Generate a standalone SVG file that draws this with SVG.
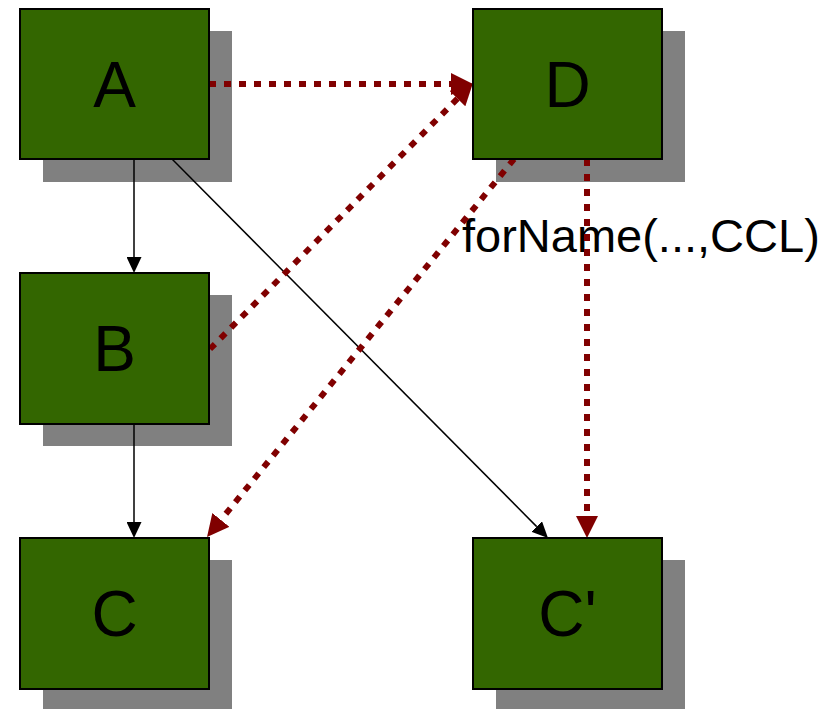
<svg xmlns="http://www.w3.org/2000/svg" width="831" height="709" viewBox="0 0 831 709">
<style>
.shadow{fill:#808080}
.box{fill:#336600;stroke:#000;stroke-width:2}
.lbl{font-family:"Liberation Sans",Arial,sans-serif;font-size:64px;fill:#000;text-anchor:middle}
.edge{stroke:#000;stroke-width:1.5;fill:none}
.dot{stroke:#800000;stroke-width:6;stroke-dasharray:7 8;fill:none}
.elbl{font-family:"Liberation Sans",Arial,sans-serif;font-size:47px;fill:#000}
</style>
<defs>
<marker id="ab" markerUnits="userSpaceOnUse" markerWidth="16" markerHeight="15" refX="0" refY="7.5" orient="auto" viewBox="0 0 16 15">
<path d="M0,0 L16,7.5 L0,15 z" fill="#000"/>
</marker>
<marker id="ar" markerUnits="userSpaceOnUse" markerWidth="22" markerHeight="22" refX="0" refY="11" orient="auto" viewBox="0 0 22 22">
<path d="M0,0 L22,11 L0,22 z" fill="#800000"/>
</marker>
</defs>
<rect width="831" height="709" fill="#fff"/>
<g id="shadows">
<rect class="shadow" x="43" y="31" width="189" height="151"/>
<rect class="shadow" x="496" y="31" width="189" height="151"/>
<rect class="shadow" x="43" y="295" width="189" height="151"/>
<rect class="shadow" x="43" y="560" width="189" height="151"/>
<rect class="shadow" x="496" y="560" width="189" height="151"/>
</g>
<g id="connectors">
<text class="elbl" x="462" y="252">forName(...,CCL)</text>
<line class="edge" x1="134" y1="159" x2="134" y2="257" marker-end="url(#ab)"/>
<line class="edge" x1="134" y1="424" x2="134" y2="522" marker-end="url(#ab)"/>
<line class="edge" x1="172" y1="159" x2="536.7" y2="526.6" marker-end="url(#ab)"/>
<line class="dot" x1="209" y1="84" x2="451" y2="84" marker-end="url(#ar)"/>
<line class="dot" x1="210" y1="349" x2="457.5" y2="98.6" marker-end="url(#ar)"/>
<line class="dot" x1="514" y1="159" x2="220.9" y2="519.9" marker-end="url(#ar)"/>
<line class="dot" x1="587" y1="159" x2="587" y2="516" marker-end="url(#ar)"/>
</g>
<g id="A"><rect class="box" x="20" y="9" width="189" height="150"/><text class="lbl" x="114.5" y="107">A</text></g>
<g id="D"><rect class="box" x="473" y="9" width="189" height="150"/><text class="lbl" x="567.5" y="107">D</text></g>
<g id="B"><rect class="box" x="20" y="273" width="189" height="151"/><text class="lbl" x="114.5" y="371">B</text></g>
<g id="C"><rect class="box" x="20" y="538" width="189" height="151"/><text class="lbl" x="114.5" y="636">C</text></g>
<g id="Cp"><rect class="box" x="473" y="538" width="189" height="151"/><text class="lbl" x="567.5" y="636">C'</text></g>
</svg>
